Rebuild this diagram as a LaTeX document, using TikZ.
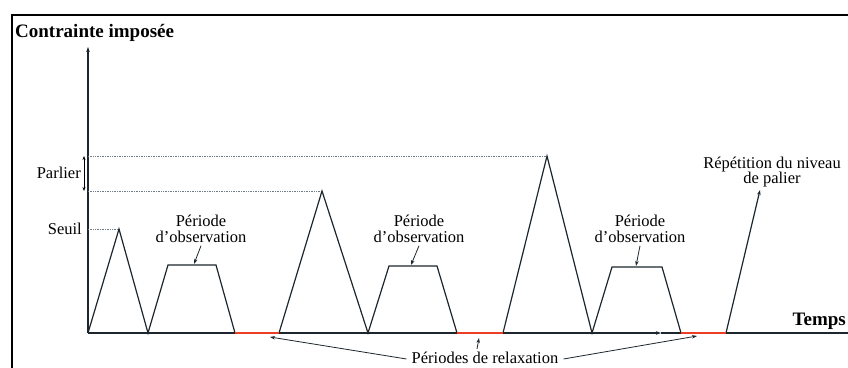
\documentclass[tikz,border=0pt]{standalone}
\usepackage{fontspec}
\setmainfont{Liberation Serif}
\usetikzlibrary{arrows.meta, positioning}
\definecolor{trait}{RGB}{28,38,44}
\definecolor{rouge}{RGB}{236,62,36}
\definecolor{pointille}{RGB}{110,125,140}

\begin{document}
\begin{tikzpicture}[x=1pt, y=1pt,
    texte/.style={font=\fontsize{16.5}{15.5}\selectfont, align=center, inner sep=0pt},
    axe/.style={font=\fontsize{19}{20}\selectfont\bfseries, inner sep=0pt},
    profil/.style={line width=1.2pt, draw=trait},
    relax/.style={line width=2pt, draw=rouge},
    niveau/.style={densely dotted, draw=pointille, line width=0.7pt},
    fleche/.style={-{Stealth[length=5pt, width=3.5pt]}, line width=0.8pt, draw=trait}]
    \useasboundingbox (-88,-34) rectangle (760,333);

    % Cadre
    \draw[line width=2pt] (-76,-40) -- (-76,318) -- (770,318);

    % Axes
    \coordinate (O) at (0,0);
    \coordinate (ytop) at (0,286);
    \coordinate (xmid) at (573,0);
    \coordinate (xend) at (760,0);
    \draw[fleche, line width=1.1pt] (O) -- (ytop);
    \draw[fleche, line width=1.1pt] (O) -- (xmid);
    \draw[line width=1.5pt, draw=trait] (xmid) -- (xend);
    \node[axe, anchor=west] (contrainte) at (-73,300) {Contrainte imposée};
    \node[axe, anchor=base east] (temps) at (758,8) {Temps};

    % Points du profil
    \coordinate (p1) at (31,104);
    \coordinate (b1) at (60,0);
    \coordinate (t1a) at (80,68);
    \coordinate (t1b) at (128,68);
    \coordinate (t1c) at (106,69);
    \coordinate (b2) at (147,0);
    \coordinate (b3) at (191,0);
    \coordinate (p2) at (234,142);
    \coordinate (b4) at (280,0);
    \coordinate (t2a) at (301,67);
    \coordinate (t2b) at (349,67);
    \coordinate (t2c) at (323,68);
    \coordinate (b5) at (369,0);
    \coordinate (b6) at (415,0);
    \coordinate (p3) at (459,177);
    \coordinate (b7) at (504,0);
    \coordinate (t3a) at (524,66);
    \coordinate (t3b) at (574,66);
    \coordinate (t3c) at (548,67);
    \coordinate (b8) at (593,0);
    \coordinate (b9) at (638,0);
    \coordinate (rep) at (672,143);

    % Niveaux
    \draw[niveau] (0,104) -- (p1);
    \draw[niveau] (0,142) -- (p2);
    \draw[niveau] (0,177) -- (p3);
    \node[texte, anchor=east] (seuil) at (-6,104) {Seuil};
    \node[texte, anchor=east] (parlier) at (-7,160) {Parlier};
    \draw[{Stealth[length=4pt, width=3pt]}-{Stealth[length=4pt, width=3pt]}, line width=0.7pt]
        (-4,177) -- (-4,142);

    % Profil
    \draw[profil, line join=miter] (O) -- (p1) -- (b1) -- (t1a) -- (t1b) -- (b2);
    \draw[profil, line join=miter] (b3) -- (p2) -- (b4) -- (t2a) -- (t2b) -- (b5);
    \draw[profil, line join=miter] (b6) -- (p3) -- (b7) -- (t3a) -- (t3b) -- (b8);
    \draw[profil, fleche, line width=1.2pt] (b9) -- (rep);

    % Relaxation
    \draw[relax] (b2) -- (b3);
    \draw[relax] (b5) -- (b6);
    \draw[relax] (b8) -- (b9);

    % Etiquettes
    \node[texte] (obs1) at (113,104) {Période\\d’observation};
    \node[texte] (obs2) at (331,104) {Période\\d’observation};
    \node[texte] (obs3) at (552,104) {Période\\d’observation};
    \draw[fleche] ([yshift=-3pt]obs1.south) -- (t1c);
    \draw[fleche] ([yshift=-3pt]obs2.south) -- (t2c);
    \draw[fleche] ([yshift=-3pt]obs3.south) -- (t3c);
    \node[texte] (repetition) at (684,161) {Répétition du niveau\\de palier};

    \node[texte] (relaxation) at (397,-25) {Périodes de relaxation};
    \coordinate (r1) at (182,-4);
    \coordinate (r2) at (391,-5);
    \coordinate (r3) at (609,-3);
    \draw[fleche] ([xshift=-5pt,yshift=-1pt]relaxation.west) -- (r1);
    \draw[fleche] ([xshift=-8pt,yshift=3pt]relaxation.north) -- (r2);
    \draw[fleche] ([xshift=5pt,yshift=-1pt]relaxation.east) -- (r3);
\end{tikzpicture}
\end{document}
